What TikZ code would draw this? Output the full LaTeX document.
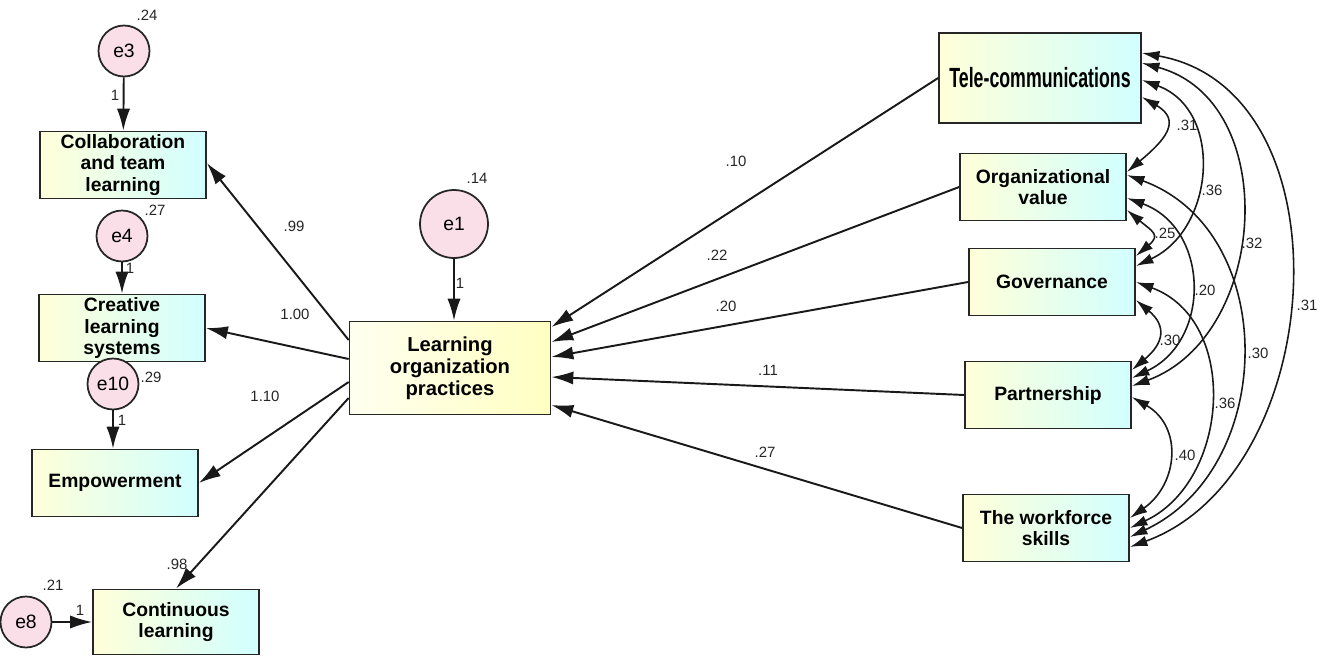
\documentclass[tikz,border=0pt]{standalone}
\usepackage{fontspec}
\setmainfont{Liberation Sans}
\usetikzlibrary{arrows.meta,positioning,calc}

\definecolor{errpink}{RGB}{250,222,232}

\begin{document}
\begin{tikzpicture}[x=0.02cm,y=-0.02cm,
  ebox/.style={draw=black!85, line width=1pt, left color=yellow!15, right color=cyan!18,
    minimum width=3.32cm, minimum height=1.34cm, inner sep=0pt, align=center,
    font=\fontsize{11}{12}\selectfont\bfseries},
  lopbox/.style={ebox, left color=yellow!6, right color=yellow!24,
    minimum width=4.02cm, minimum height=1.86cm, font=\fontsize{11.5}{12.5}\selectfont\bfseries},
  err/.style={circle, draw=black!85, line width=1pt, fill=errpink, minimum size=1.02cm,
    inner sep=0pt, font=\fontsize{11}{12}\selectfont},
  num/.style={font=\fontsize{8.5}{9}\selectfont, text=black!85, inner sep=1pt},
  reg/.style={-{Latex[length=12.5pt,width=7.5pt]}, line width=1.1pt, black!90},
  cov/.style={{Latex[length=10pt,width=6pt]}-{Latex[length=10pt,width=6pt]},
    line width=0.9pt, black!90},
]
\useasboundingbox (0,0) rectangle (1326,656);

% left side: indicators
\node[ebox] (collab) at (123,165) {Collaboration\\and team\\learning};
\node[ebox] (creative) at (122,328) {Creative\\learning\\systems};
\node[ebox] (empower) at (115,483) {Empowerment};
\node[ebox, minimum height=1.3cm] (contin) at (176,622) {Continuous\\learning};

\node[err] (e3) at (124,51) {e3};
\node[err] (e4) at (122,236) {e4};
\node[err] (e10) at (113,384) {e10};
\node[err] (e8) at (26,622) {e8};

\node[num] (v3) at (147,15) {.24};
\node[num] (v4) at (155,210) {.27};
\node[num] (v10) at (151,377) {.29};
\node[num] (v8) at (53,585) {.21};

\draw[reg] (e3) -- (collab);
\draw[reg] (e4) -- (creative);
\draw[reg] (e10) -- (e10 |- empower.north);
\draw[reg] (e8) -- (contin);
\node[num] (f3) at (115,95) {1};
\node[num] (f4) at (130,268) {1};
\node[num] (f10) at (122,420) {1};
\node[num] (f8) at (80,610) {1};

% centre
\node[lopbox] (lop) at (450,368) {Learning\\organization\\practices};
\node[err, minimum size=1.36cm] (e1) at (454,224) {e1};
\node[num] (v1) at (477,178) {.14};
\draw[reg] (e1) -- (e1 |- lop.north);
\node[num] (f1) at (460,283) {1};

\draw[reg] ([yshift=0.56cm]lop.west) -- ([yshift=0.04cm]collab.east);
\draw[reg] ([yshift=0.18cm]lop.west) -- (creative.east);
\draw[reg] ([yshift=-0.28cm]lop.west) -- (empower.east);
\draw[reg] ([yshift=-0.6cm]lop.west) -- (contin.north);
\node[num] (l99) at (294,226) {.99};
\node[num] (l100) at (295,314) {1.00};
\node[num] (l110) at (265,396) {1.10};
\node[num] (l98) at (177,564) {.98};

% right side: predictors
\node[ebox, minimum width=4.04cm, minimum height=1.8cm] (tele) at (1040,78)
  {\scalebox{0.64}[1]{\fontsize{15.8}{18}\selectfont Tele-communications}};
\node[ebox] (orgval) at (1043,187) {Organizational\\value};
\node[ebox] (gov) at (1052,282) {Governance};
\node[ebox] (partner) at (1048,395) {Partnership};
\node[ebox] (skills) at (1046,528) {The workforce\\skills};

\draw[reg] (tele.west) -- ([yshift=0.82cm]lop.east);
\draw[reg] (orgval.west) -- ([yshift=0.52cm]lop.east);
\draw[reg] (gov.west) -- ([yshift=0.22cm]lop.east);
\draw[reg] (partner.west) -- ([yshift=-0.18cm]lop.east);
\draw[reg] (skills.west) -- ([yshift=-0.74cm]lop.east);
\node[num] (l10) at (736,161) {.10};
\node[num] (l22) at (717,255) {.22};
\node[num] (l20) at (726,306) {.20};
\node[num] (l11) at (768,370) {.11};
\node[num] (l27) at (765,452) {.27};

% covariances
\draw[cov] ([yshift=-0.38cm]tele.east) to[out=-30,in=40,looseness=1.6] ([yshift=0.3cm]orgval.east);
\draw[cov] ([yshift=-0.04cm]tele.east) to[out=-20,in=25,looseness=1.2] ([yshift=0.32cm]gov.east);
\draw[cov] ([yshift=0.3cm]tele.east) to[out=-15,in=20,looseness=1.15] ([yshift=0.18cm]partner.east);
\draw[cov] ([yshift=0.5cm]tele.east) to[out=-10,in=20,looseness=1.1] ([yshift=-0.38cm]skills.east);
\draw[cov] ([yshift=-0.46cm]orgval.east) to[out=-40,in=40,looseness=1.8] ([yshift=0.52cm]gov.east);
\draw[cov] ([yshift=-0.22cm]orgval.east) to[out=-20,in=25,looseness=1.25] ([yshift=0.34cm]partner.east);
\draw[cov] ([yshift=0.24cm]orgval.east) to[out=-20,in=25,looseness=1.15] ([yshift=-0.18cm]skills.east);
\draw[cov] ([yshift=-0.36cm]gov.east) to[out=-40,in=40,looseness=1.5] ([yshift=0.5cm]partner.east);
\draw[cov] (gov.east) to[out=-20,in=25,looseness=1.15] (skills.east);
\draw[cov] ([yshift=-0.04cm]partner.east) to[out=-30,in=35,looseness=1.25] ([yshift=0.2cm]skills.east);

\node[num] (c1) at (1187,125) {.31};
\node[num] (c2) at (1212,190) {.36};
\node[num] (c3) at (1252,243) {.32};
\node[num] (c4) at (1307,305) {.31};
\node[num] (c5) at (1165,233) {.25};
\node[num] (c6) at (1205,290) {.20};
\node[num] (c7) at (1258,353) {.30};
\node[num] (c8) at (1170,340) {.30};
\node[num] (c9) at (1225,403) {.36};
\node[num] (c10) at (1185,455) {.40};
\end{tikzpicture}
\end{document}
